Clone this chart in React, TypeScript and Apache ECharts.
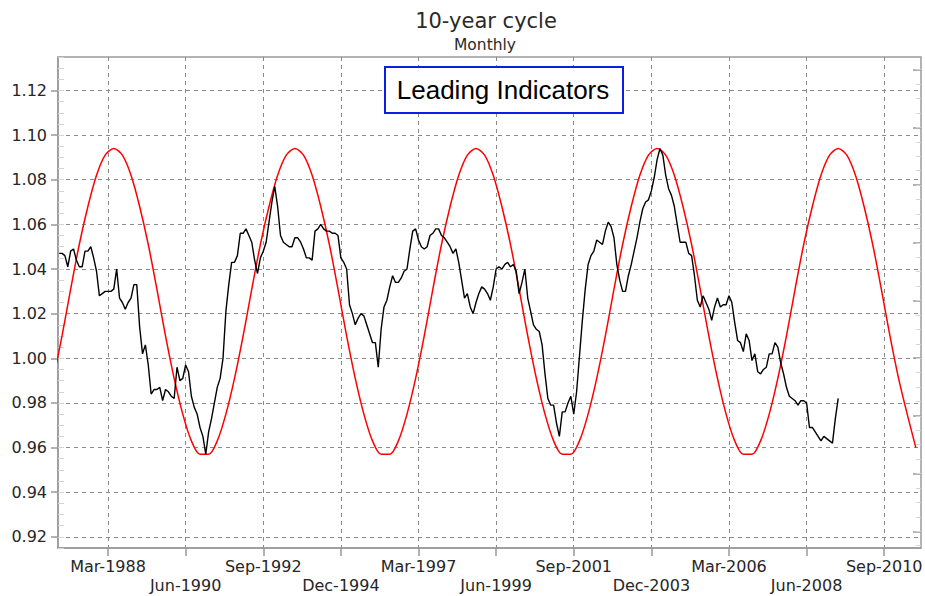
import { useEffect, useRef } from 'react';
import * as echarts from 'echarts';

// ---------- data ----------
const MONTHS = ['Jan', 'Feb', 'Mar', 'Apr', 'May', 'Jun', 'Jul', 'Aug', 'Sep', 'Oct', 'Nov', 'Dec'];
const BASE_YEAR = 1986;
const monthIndex = (label: string) => {
  const [mon, yr] = label.split('-');
  return (Number(yr) - BASE_YEAR) * 12 + MONTHS.indexOf(mon);
};

const xTickLabels = [
  'Mar-1988', 'Jun-1990', 'Sep-1992', 'Dec-1994', 'Mar-1997', 'Jun-1999',
  'Sep-2001', 'Dec-2003', 'Mar-2006', 'Jun-2008', 'Sep-2010',
];
const yTickValues = [0.92, 0.94, 0.96, 0.98, 1.0, 1.02, 1.04, 1.06, 1.08, 1.1, 1.12];

// Leading indicators, monthly, starting Oct-1986
const leadingStart = 'Oct-1986';
const leadingValues = [
  1.047, 1.047, 1.046, 1.041, 1.048, 1.049, 1.044, 1.041, 1.041, 1.048, 1.048, 1.050,
  1.045, 1.039, 1.028, 1.029, 1.030, 1.030, 1.030, 1.031, 1.040, 1.027, 1.025, 1.022,
  1.025, 1.027, 1.033, 1.033, 1.014, 1.002, 1.006, 0.997, 0.984, 0.986, 0.986, 0.987,
  0.981, 0.986, 0.985, 0.983, 0.982, 0.996, 0.990, 0.991, 0.997, 0.994, 0.983, 0.978,
  0.975, 0.969, 0.965, 0.957, 0.967, 0.973, 0.980, 0.987, 0.991, 1.000, 1.021, 1.033,
  1.043, 1.043, 1.046, 1.056, 1.056, 1.058, 1.055, 1.052, 1.044, 1.038, 1.045, 1.048,
  1.052, 1.061, 1.070, 1.077, 1.068, 1.055, 1.052, 1.051, 1.050, 1.050, 1.054, 1.054,
  1.052, 1.049, 1.045, 1.045, 1.044, 1.057, 1.058, 1.060, 1.058, 1.057, 1.057, 1.056,
  1.056, 1.055, 1.045, 1.043, 1.040, 1.024, 1.020, 1.015, 1.018, 1.020, 1.019, 1.015,
  1.011, 1.007, 1.007, 0.996, 1.013, 1.023, 1.026, 1.032, 1.037, 1.034, 1.034, 1.036,
  1.039, 1.040, 1.049, 1.057, 1.058, 1.053, 1.050, 1.049, 1.050, 1.055, 1.056, 1.058,
  1.058, 1.055, 1.054, 1.052, 1.050, 1.047, 1.049, 1.043, 1.035, 1.027, 1.029, 1.023,
  1.020, 1.025, 1.029, 1.032, 1.031, 1.029, 1.026, 1.032, 1.040, 1.041, 1.040, 1.042,
  1.043, 1.041, 1.042, 1.039, 1.029, 1.034, 1.040, 1.027, 1.021, 1.015, 1.013, 1.012,
  1.006, 0.993, 0.982, 0.979, 0.979, 0.971, 0.965, 0.976, 0.976, 0.980, 0.983, 0.975,
  0.985, 1.001, 1.017, 1.031, 1.042, 1.046, 1.048, 1.053, 1.052, 1.051, 1.057, 1.061,
  1.059, 1.054, 1.042, 1.035, 1.030, 1.030, 1.037, 1.042, 1.048, 1.054, 1.061, 1.067,
  1.070, 1.071, 1.075, 1.081, 1.089, 1.094, 1.091, 1.082, 1.076, 1.073, 1.068, 1.060,
  1.052, 1.052, 1.052, 1.047, 1.046, 1.037, 1.026, 1.023, 1.028, 1.025, 1.022, 1.017,
  1.023, 1.027, 1.023, 1.024, 1.024, 1.028, 1.025, 1.016, 1.008, 1.007, 1.003, 1.011,
  1.008, 0.999, 1.002, 0.994, 0.993, 0.995, 0.996, 1.002, 1.002, 1.007, 1.005, 0.998,
  0.993, 0.987, 0.983, 0.982, 0.981, 0.979, 0.981, 0.981, 0.980, 0.969, 0.969, 0.967,
  0.965, 0.963, 0.965, 0.964, 0.963, 0.962, 0.973, 0.982,
];

// Cycle curve, read every 3 months, starting Aug-1986
const cycleStart = 'Aug-1986';
const cycleStepMonths = 3;
const cycleValues = [
  0.991, 1.010, 1.031, 1.051, 1.068, 1.082, 1.091,
  1.094, 1.091, 1.082, 1.068, 1.051, 1.031, 1.010, 0.991, 0.975, 0.963, 0.957,
  0.957, 0.963, 0.975, 0.991, 1.010, 1.031, 1.051, 1.068, 1.082, 1.091,
  1.094, 1.091, 1.082, 1.068, 1.051, 1.031, 1.010, 0.991, 0.975, 0.963, 0.957,
  0.957, 0.963, 0.975, 0.991, 1.010, 1.031, 1.051, 1.068, 1.082, 1.091,
  1.094, 1.091, 1.082, 1.068, 1.051, 1.031, 1.010, 0.991, 0.975, 0.963, 0.957,
  0.957, 0.963, 0.975, 0.991, 1.010, 1.031, 1.051, 1.068, 1.082, 1.091,
  1.094, 1.091, 1.082, 1.068, 1.051, 1.031, 1.010, 0.991, 0.975, 0.963, 0.957,
  0.957, 0.963, 0.975, 0.991, 1.010, 1.031, 1.051, 1.068, 1.082, 1.091,
  1.094, 1.091, 1.082, 1.068, 1.051, 1.031, 1.010, 0.991, 0.975, 0.960,
];

// ---------- component ----------
const FONT = '"DejaVu Sans", Verdana, sans-serif';

export default function App() {
  const ref = useRef<HTMLDivElement>(null);

  useEffect(() => {
    const chart = echarts.init(ref.current!, null, { renderer: 'svg' });

    const xTickMonths = xTickLabels.map(monthIndex);
    const leadStartIdx = monthIndex(leadingStart);
    const cycleStartIdx = monthIndex(cycleStart);
    const leadingData = leadingValues.map((v, i) => [leadStartIdx + i, v]);
    const cycleData = cycleValues.map((v, i) => [cycleStartIdx + i * cycleStepMonths, v]);

    const yMin = 0.915;
    const yMax = 1.135;
    const yMinor: number[] = [];
    for (let k = 0; k <= 44; k++) yMinor.push(+(yMin + k * 0.005).toFixed(3));

    const rMax = 8.51;
    const rMajor: number[] = [];
    const rMinor: number[] = [];
    for (let k = 0; k <= 8; k++) rMajor.push(0.29 + k);
    for (let k = 0; k <= 33; k++) rMinor.push(0.04 + k * 0.25);

    const option: any = {
      animation: false,
      backgroundColor: '#ffffff',
      grid: {
        left: 58,
        top: 57,
        right: 4,
        bottom: 48,
        show: true,
        borderColor: '#9a9a9a',
        borderWidth: 1.5,
        backgroundColor: 'transparent',
        outerBoundsMode: 'none',
      },
      xAxis: {
        type: 'value',
        min: 8.6,
        max: 308.8,
        axisLine: { show: true, lineStyle: { color: '#9a9a9a', width: 1.5 } },
        axisTick: {
          show: true,
          customValues: xTickMonths,
          length: 8,
          lineStyle: { color: '#9a9a9a', width: 1.5 },
        },
        axisLabel: {
          customValues: xTickMonths,
          formatter: (v: number) => {
            const i = xTickMonths.indexOf(Math.round(v));
            if (i < 0) return '';
            return i % 2 === 1 ? '\n' + xTickLabels[i] : xTickLabels[i];
          },
          fontSize: 16,
          fontFamily: FONT,
          color: '#262626',
          lineHeight: 19,
          margin: 9,
        },
        splitLine: { show: true, lineStyle: { type: [4, 4], color: '#8a8a8a', width: 1 } },
      },
      yAxis: [
        {
          type: 'value',
          position: 'left',
          min: yMin,
          max: yMax,
          axisLine: { show: true, lineStyle: { color: '#9a9a9a', width: 1.5 } },
          axisTick: {
            show: true,
            customValues: yTickValues,
            length: 7,
            lineStyle: { color: '#9a9a9a', width: 1.5 },
          },
          axisLabel: {
            customValues: yTickValues,
            formatter: (v: number) => v.toFixed(2),
            fontSize: 16,
            fontFamily: FONT,
            color: '#262626',
            margin: 11,
          },
          splitLine: { show: true, lineStyle: { type: [4, 4], color: '#8a8a8a', width: 1 } },
        },
        {
          type: 'value',
          position: 'left',
          min: yMin,
          max: yMax,
          axisLine: { show: false },
          axisTick: {
            show: true,
            inside: true,
            customValues: yMinor,
            length: 6,
            lineStyle: { color: '#d4d4d4', width: 1 },
          },
          axisLabel: { show: false },
          splitLine: { show: false },
        },
        {
          type: 'value',
          position: 'right',
          min: 0,
          max: rMax,
          axisLine: { show: false },
          axisTick: {
            show: true,
            inside: true,
            customValues: rMajor,
            length: 8,
            lineStyle: { color: '#9a9a9a', width: 1.5 },
          },
          axisLabel: { show: false },
          splitLine: { show: false },
        },
        {
          type: 'value',
          position: 'right',
          min: 0,
          max: rMax,
          axisLine: { show: false },
          axisTick: {
            show: true,
            inside: true,
            customValues: rMinor,
            length: 5,
            lineStyle: { color: '#d4d4d4', width: 1 },
          },
          axisLabel: { show: false },
          splitLine: { show: false },
        },
      ],
      series: [
        {
          name: 'Cycle',
          type: 'line',
          data: cycleData,
          xAxisIndex: 0,
          yAxisIndex: 0,
          showSymbol: false,
          smooth: 0.3,
          lineStyle: { color: '#ff0000', width: 1.5 },
          z: 3,
        },
        {
          name: 'Leading Indicators',
          type: 'line',
          data: leadingData,
          xAxisIndex: 0,
          yAxisIndex: 0,
          showSymbol: false,
          lineStyle: { color: '#000000', width: 1.4 },
          z: 4,
        },
      ],
      graphic: [
        {
          type: 'text',
          x: 486,
          y: 21,
          z: 100,
          style: {
            text: '10-year cycle',
            fontSize: 21,
            fontFamily: FONT,
            fill: '#2a2a2a',
            align: 'center',
            verticalAlign: 'middle',
          },
        },
        {
          type: 'text',
          x: 485,
          y: 44.5,
          z: 100,
          style: {
            text: 'Monthly',
            fontSize: 15.5,
            fontFamily: FONT,
            fill: '#2a2a2a',
            align: 'center',
            verticalAlign: 'middle',
          },
        },
        {
          type: 'rect',
          z: 100,
          shape: { x: 385, y: 67, width: 238, height: 46 },
          style: { fill: '#ffffff', stroke: '#0a1ee8', lineWidth: 2 },
        },
        {
          type: 'text',
          x: 503,
          y: 90,
          z: 101,
          style: {
            text: 'Leading Indicators',
            fontSize: 26,
            fontFamily: '"Liberation Sans", Arial, sans-serif',
            fill: '#000',
            align: 'center',
            verticalAlign: 'middle',
          },
        },
      ],
    };

    chart.setOption(option);
    return () => chart.dispose();
  }, []);

  return (
    <div
      ref={ref}
      style={{ position: 'fixed', left: 0, top: 0, width: 925, height: 596, background: '#fff' }}
    />
  );
}
